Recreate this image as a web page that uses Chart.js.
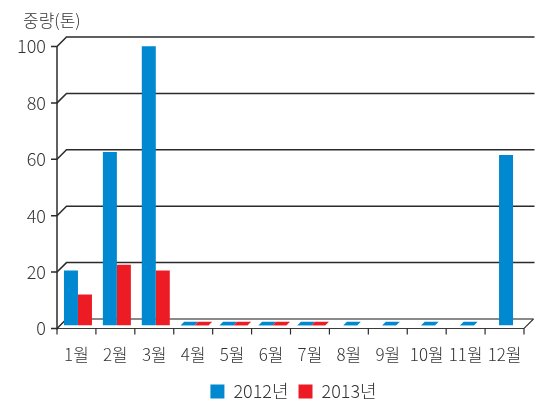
<!DOCTYPE html>
<html><head><meta charset="utf-8">
<script src="https://cdn.jsdelivr.net/npm/chart.js@4/dist/chart.umd.min.js"></script>
<style>html,body{margin:0;padding:0;background:#fff}#wrap{width:544px;height:400px}</style>
</head><body><div id="wrap"><canvas id="c" width="544" height="400"></canvas></div>
<script>
const months = ['1월','2월','3월','4월','5월','6월','7월','8월','9월','10월','11월','12월'];
const series2012 = [19.5, 61.5, 99, 0.2, 0.2, 0.2, 0.2, 0.2, 0.2, 0.2, 0.2, 60.5];
const series2013 = [11, 21.5, 19.5, 0.2, 0.2, 0.2, 0.2, null, null, null, null, null];
const yTicks = [0, 20, 40, 60, 80, 100];
const seriesNames = ['2012년', '2013년'];
const yTitle = '중량(톤)';

const FONT = "'Noto Sans CJK KR', 'Noto Sans', sans-serif";
const BLUE = '#0088d0';
const RED = '#ed1c24';
const D = 9.5;

const framePlugin = {
  id: 'frame3d',
  afterLayout(chart) {
    const lg = chart.legend;
    if (lg) {
      const h = lg.height;
      lg.top = 372.5; lg.bottom = 372.5 + h;
      lg.left = 0; lg.right = 587; lg.width = 587;
    }
  },
  beforeDatasetsDraw(chart) {
    const {ctx, chartArea: {left, right, top, bottom}, scales: {x, y}} = chart;
    ctx.save();
    ctx.lineCap = 'butt';
    const fb = y.getPixelForValue(0);
    ctx.strokeStyle = '#8a8a8a'; ctx.lineWidth = 2;
    ctx.beginPath(); ctx.moveTo(left + D, fb - D); ctx.lineTo(right + D, fb - D); ctx.stroke();
    ctx.strokeStyle = '#2b2b2b'; ctx.lineWidth = 1.5;
    yTicks.forEach(v => {
      const py = y.getPixelForValue(v);
      ctx.beginPath();
      ctx.moveTo(left - 6, py); ctx.lineTo(left, py); ctx.lineTo(left + D, py - D);
      if (v > 0) ctx.lineTo(right + D + 1, py - D);
      ctx.stroke();
    });
    ctx.lineWidth = 1.2; ctx.strokeStyle = '#3a3a3a';
    ctx.beginPath(); ctx.moveTo(left, fb); ctx.lineTo(right, fb); ctx.lineTo(right + D, fb - D); ctx.stroke();
    ctx.lineWidth = 1.5; ctx.strokeStyle = '#2b2b2b';
    ctx.beginPath(); ctx.moveTo(left, top); ctx.lineTo(left, fb + 1); ctx.stroke();
    ctx.lineWidth = 1.2;
    const n = months.length;
    for (let i = 0; i <= n; i++) {
      let px;
      if (i === 0) px = left; else if (i === n) px = right;
      else px = (x.getPixelForValue(i - 1) + x.getPixelForValue(i)) / 2;
      ctx.beginPath(); ctx.moveTo(px, fb); ctx.lineTo(px, fb + 6); ctx.stroke();
    }
    ctx.restore();
    ctx.save();
    ctx.translate(1.5, -3);
  },
  afterDatasetsDraw(chart) {
    const {ctx} = chart;
    chart.data.datasets.forEach((ds, di) => {
      const meta = chart.getDatasetMeta(di);
      meta.data.forEach((el, i) => {
        const v = ds.data[i];
        if (v == null) return;
        if (Math.abs(el.base - el.y) < 3) {
          const w = el.width, b = el.y + 0.3, s = 3.5;
          ctx.fillStyle = ds.backgroundColor;
          ctx.beginPath();
          ctx.moveTo(el.x - w / 2, b);
          ctx.lineTo(el.x + w / 2, b);
          ctx.lineTo(el.x + w / 2 + s, b - s);
          ctx.lineTo(el.x - w / 2 + s, b - s);
          ctx.closePath(); ctx.fill();
        }
      });
    });
    ctx.restore();
  },
  afterDraw(chart) {
    const {ctx} = chart;
    ctx.save();
    ctx.font = '300 17px ' + FONT;
    ctx.fillStyle = '#333';
    ctx.textBaseline = 'middle';
    ctx.textAlign = 'left';
    ctx.fillText(yTitle, 23, 21);
    ctx.restore();
  }
};

new Chart(document.getElementById('c'), {
  type: 'bar',
  data: {
    labels: months,
    datasets: [
      {label: seriesNames[0], data: series2012, backgroundColor: BLUE, borderWidth: 0},
      {label: seriesNames[1], data: series2013, backgroundColor: RED, borderWidth: 0}
    ]
  },
  options: {
    responsive: false,
    devicePixelRatio: 1,
    animation: false,
    skipNull: true,
    categoryPercentage: 0.72,
    barPercentage: 1.0,
    maxBarThickness: 14,
    layout: {padding: {top: 46.5, right: 20, left: 0, bottom: -11.5}},
    plugins: {
      legend: {
        position: 'bottom',
        labels: {boxWidth: 14, boxHeight: 14, padding: 10, color: '#333', font: {size: 18, family: FONT, weight: '300'}}
      },
      tooltip: {enabled: false},
      title: {display: false}
    },
    scales: {
      x: {
        type: 'category',
        grid: {display: false, drawTicks: false},
        border: {display: false},
        ticks: {color: '#333', font: {size: 17, family: FONT, weight: '300'}, padding: 16, maxRotation: 0, autoSkip: false},
        afterFit: s => { s.height = 45; }
      },
      y: {
        min: 0, max: 100,
        grid: {display: false, drawTicks: false},
        border: {display: false},
        ticks: {stepSize: 20, color: '#333', font: {size: 18, family: FONT, weight: '300'}, padding: 11},
        afterFit: s => { s.width = 57; }
      }
    }
  },
  plugins: [framePlugin]
});
</script>
</body></html>
